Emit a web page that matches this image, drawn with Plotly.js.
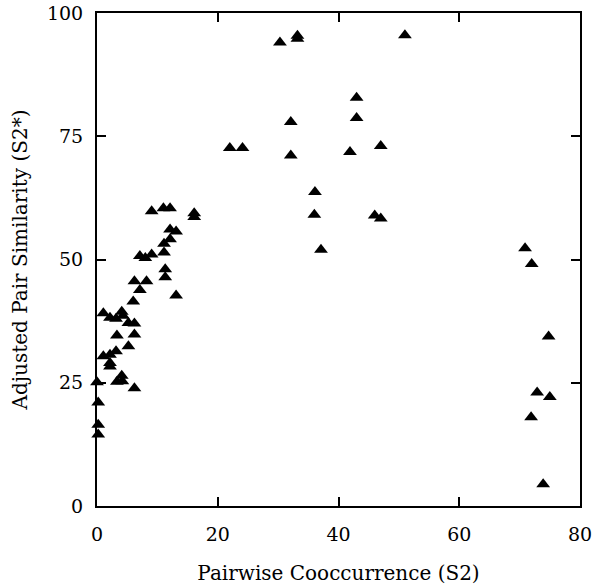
<!DOCTYPE html>
<html>
<head>
<meta charset="utf-8">
<script src="https://cdn.plot.ly/plotly-3.0.1.min.js"></script>
<style>html,body{margin:0;padding:0;background:#fff;}#chart{width:592px;height:588px;}</style>
</head>
<body>
<div id="chart"></div>
<script>
// Pairwise Cooccurrence (S2)
var cooccurrence = [
  0.2, 0.2, 0.2, 0, 1.05, 1.05, 2.15, 2.15, 2.15, 2.15, 3.15, 3.3, 3.15, 3.3,
  4.1, 4.3, 4.1, 4.2, 5.2, 5.2, 6.2, 6.2, 6.2, 6.0, 6.2, 7.1, 8.2, 7.1, 8.0, 9.05,
  9.05, 11.0, 12.1, 11.1, 11.1, 11.3, 11.3, 12.1, 13.1, 12.1, 13.1, 16.1, 16.1,
  22.0, 24.1, 30.3, 33.2, 33.2, 51.0, 43.0, 43.0, 32.1, 32.1, 41.9, 47.0,
  36.1, 36.0, 46.0, 47.0, 37.1, 70.9, 72.0, 74.8, 72.9, 75.0, 71.9, 73.9
];
// Adjusted Pair Similarity (S2*)
var similarity = [
  14.5, 16.5, 21.0, 25.1, 39.1, 30.4, 38.2, 30.7, 29.0, 28.3, 38.0, 34.6, 31.4, 25.2,
  39.4, 38.6, 26.4, 25.3, 37.1, 32.4, 37.0, 34.8, 23.9, 41.5, 45.6, 43.8, 45.6, 50.7, 50.3, 51.0,
  59.8, 60.4, 60.4, 53.2, 51.4, 48.0, 46.4, 56.1, 55.7, 54.1, 42.7, 59.4, 58.6,
  72.6, 72.6, 94.0, 95.4, 94.8, 95.5, 82.8, 78.7, 77.9, 71.1, 71.8, 73.0,
  63.7, 59.1, 58.9, 58.3, 52.0, 52.3, 49.1, 34.4, 23.0, 22.1, 18.0, 4.4
];
var xTicks = [0, 20, 40, 60, 80];
var yTicks = [0, 25, 50, 75, 100];

var fontFam = 'DejaVu Serif, Liberation Serif, serif';

var trace = {
  type: 'scatter',
  mode: 'markers',
  x: cooccurrence,
  y: similarity,
  cliponaxis: false,
  marker: {symbol: 'triangle-up', size: 12, color: '#000', line: {width: 0}},
  hoverinfo: 'x+y'
};

var axisCommon = {
  showgrid: false,
  zeroline: false,
  showline: true,
  linecolor: '#000',
  linewidth: 2,
  mirror: 'ticks',
  ticks: 'inside',
  ticklen: 9,
  tickwidth: 2,
  tickcolor: '#000',
  tickmode: 'array',
  ticklabeloverflow: 'allow',
  tickfont: {family: fontFam, size: 19, color: '#000'}
};

var layout = {
  width: 592,
  height: 588,
  margin: {l: 97, r: 12, t: 13, b: 82},
  paper_bgcolor: '#fff',
  plot_bgcolor: '#fff',
  showlegend: false,
  xaxis: Object.assign({}, axisCommon, {
    range: [0, 80],
    tickvals: xTicks,
    ticktext: xTicks.map(String),
    ticklabelstandoff: 10,
    title: {text: 'Pairwise Cooccurrence (S2)', font: {family: fontFam, size: 20, color: '#000'}, standoff: 22}
  }),
  yaxis: Object.assign({}, axisCommon, {
    range: [0, 100],
    tickvals: yTicks,
    ticktext: yTicks.map(String),
    ticklabelstandoff: 8,
    title: {text: 'Adjusted Pair Similarity (S2*)', font: {family: fontFam, size: 20, color: '#000'}, standoff: 14}
  })
};

Plotly.newPlot('chart', [trace], layout, {displayModeBar: false, staticPlot: true});
</script>
</body>
</html>
